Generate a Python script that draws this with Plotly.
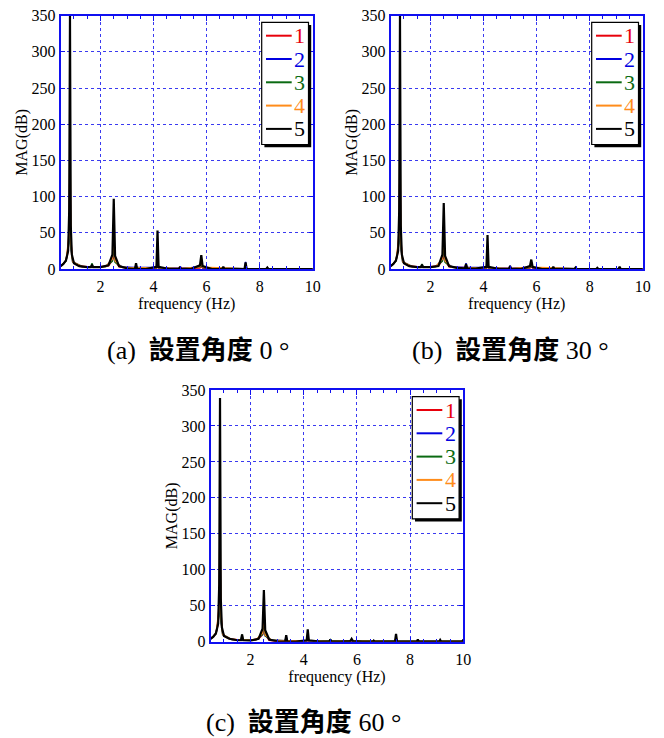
import plotly.graph_objects as go

# ---------------- data ----------------
series_names = ["1", "2", "3", "4", "5"]
series_colors = ["#e8000b", "#0000e0", "#0a6a12", "#ff8c1a", "#000000"]
caption_tags = ["(a)", "(b)", "(c)"]
caption_words = "設置角度"
caption_angles = ["0 °", "30 °", "60 °"]

x_ticks = [2, 4, 6, 8, 10]
y_ticks = [0, 50, 100, 150, 200, 250, 300, 350]

# frequency grids (Hz)
freq_black = [0.50, 0.60, 0.70, 0.78, 0.82, 0.85, 0.88, 0.92, 1.00, 1.20,
              1.50, 1.64, 1.68, 1.72, 2.00, 2.30, 2.45, 2.50, 2.55, 2.70,
              3.00, 3.30, 3.34, 3.38, 3.70, 4.11, 4.15, 4.19, 4.60, 4.96,
              5.00, 5.04, 5.40, 5.75, 5.80, 5.85, 6.20, 6.59, 6.63, 6.67,
              7.00, 7.43, 7.47, 7.51, 7.90, 8.25, 8.29, 8.33, 8.70, 9.09,
              9.13, 9.17, 9.60, 9.96, 10.00]
freq_red = [0.50, 0.60, 0.70, 0.78, 0.82, 0.85, 0.88, 0.92, 1.00, 1.20,
            1.50, 1.68, 2.00, 2.30, 2.45, 2.50, 2.55, 2.70, 3.00, 3.34,
            3.70, 4.10, 4.15, 4.20, 4.60, 5.00, 5.40, 5.75, 5.80, 5.85,
            6.20, 6.63, 7.00, 7.47, 8.00, 8.29, 9.00, 9.13, 10.00]
freq_other = [0.50, 0.70, 0.81, 0.85, 0.89, 0.95, 1.30, 1.64, 1.68, 1.72,
              2.20, 2.45, 2.50, 2.55, 2.80, 3.30, 3.34, 3.38, 4.11, 4.15,
              4.19, 4.96, 5.00, 5.04, 5.75, 5.80, 5.85, 7.43, 7.47, 7.51,
              9.09, 9.13, 9.17, 10.00]

# MAG(dB) values, panel (a) 0 deg
a_s1 = [4.5, 7, 12, 25, 60, 90, 45, 18, 8, 4,
        3, 3, 3, 4.5, 12, 20, 12, 3, 1.5, 1.5,
        1, 0.5, 4, 0.5, 0.5, 0.5, 0.5, 1.5, 4, 1.5,
        0.3, 0.3, 0.3, 0.3, 0.3, 0.5, 0.3, 0.3, 0.3]
a_s2 = [4, 11, 40, 150, 30, 10, 3.5, 3, 4, 3,
        3.5, 12, 40, 10, 3, 2, 5, 2, 2, 20,
        2, 0.8, 1.5, 0.8, 3, 8, 2, 0.5, 10, 0.5,
        0.3, 0.5, 0.3, 0.3]
a_s3 = [4, 11, 35, 120, 28, 10, 3.5, 3, 8, 3,
        3.5, 11, 35, 9, 2.5, 1.5, 3, 1.5, 1.5, 15,
        1.5, 0.5, 1, 0.5, 2.5, 6, 2, 0.5, 3, 0.5,
        0.3, 0.5, 0.3, 0.3]
a_s4 = [4, 11, 45, 180, 35, 10, 3.5, 3, 4, 3,
        3.5, 14, 50, 11, 2.5, 1.5, 3, 1.5, 2, 25,
        2, 0.5, 3.5, 0.5, 3, 10, 2.5, 0.5, 4, 0.5,
        0.3, 0.5, 0.3, 0.3]
a_s5 = [4, 7, 12, 25, 80, 350, 60, 20, 8, 4,
        2.5, 2.5, 6, 2.5, 2.5, 5, 20, 97, 18, 4,
        1, 0, 8, 0, 0, 3, 53, 3, 0, 0,
        3, 0, 0, 5, 19, 4, 0, 0, 3, 0,
        0, 0, 9, 0, 0, 0, 2, 0, 0, 0,
        0.5, 0, 0, 0, 0]

# panel (b) 30 deg
b_s1 = [4.5, 7, 12, 25, 60, 90, 45, 18, 8, 4,
        3, 3, 3, 4.5, 12, 20, 12, 3, 2, 2,
        1.2, 0.5, 4, 0.5, 0.5, 0.5, 0.5, 1.5, 3, 1.5,
        0.3, 0.3, 0.3, 0.3, 0.3, 0.3, 0.3, 0.8, 0.3]
b_s2 = [4, 11, 40, 150, 30, 10, 3.5, 3, 4, 3,
        3.5, 12, 40, 10, 3, 2, 8, 2, 2, 20,
        2, 0.8, 5, 0.8, 2.5, 6, 2, 0.5, 1, 0.5,
        0.5, 1, 0.5, 0.3]
b_s3 = [4, 11, 35, 120, 28, 10, 3.5, 3, 7, 3,
        3.5, 11, 35, 9, 2.5, 1.5, 3, 1.5, 1.5, 15,
        1.5, 0.5, 1, 0.5, 2, 5, 2, 0.5, 1, 0.5,
        0.5, 1, 0.5, 0.3]
b_s4 = [4, 11, 45, 180, 35, 10, 3.5, 3, 4, 3,
        3.5, 14, 50, 11, 2.5, 1.5, 3, 1.5, 2, 25,
        2, 0.5, 3, 0.5, 3, 8, 2.5, 0.5, 1, 0.5,
        0.5, 2, 0.5, 0.3]
b_s5 = [4, 7, 12, 25, 80, 350, 60, 20, 8, 4,
        2.5, 2.5, 6, 2.5, 2.5, 4, 20, 91, 18, 4,
        1.5, 1, 7, 1, 0.5, 3, 47, 3, 0, 0,
        4, 0, 0, 4, 13, 3, 0, 0, 3, 0,
        0, 0, 2, 0, 0, 0, 1.5, 0, 0, 0,
        3, 0, 0, 0, 0]

# panel (c) 60 deg
c_s1 = [4.5, 7, 12, 25, 60, 80, 45, 18, 8, 4,
        2.5, 2.5, 2, 4, 10, 18, 10, 2, 0.5, 0.5,
        0.3, 0.3, 1.5, 0.3, 0.3, 0.3, 0.3, 0.3, 1, 0.3,
        0.3, 0.3, 0.3, 0.3, 0.3, 0.3, 0.3, 0.3, 0.3]
c_s2 = [4, 11, 40, 140, 30, 10, 3, 2, 5, 2,
        2.5, 10, 30, 8, 2, 1.5, 8, 1.5, 1, 8,
        1, 0.5, 1.5, 0.5, 0.5, 2, 0.5, 0.5, 6, 0.5,
        0.5, 1, 0.5, 0.5]
c_s3 = [4, 11, 35, 120, 28, 10, 3, 2.5, 10, 2.5,
        2.5, 10, 30, 8, 2, 1.5, 5, 1.5, 1.2, 8,
        1.2, 1, 3, 1, 1, 2, 1, 1, 4, 1,
        0.8, 1, 0.8, 0.8]
c_s4 = [4, 11, 45, 170, 35, 10, 3, 2, 5, 2,
        2.5, 12, 35, 9, 2, 1.5, 4, 1.5, 1.5, 10,
        1.5, 0.5, 2, 0.5, 1, 3, 1, 0.5, 5, 0.5,
        0.5, 1, 0.5, 0.5]
c_s5 = [4, 7, 12, 25, 80, 339, 60, 20, 8, 4,
        2, 2, 10, 2, 1.5, 4, 18, 72, 16, 3,
        0.5, 0, 9, 0, 0, 2, 17, 2, 0, 0,
        3, 0, 0, 1, 4, 1, 0, 0, 1.5, 0,
        0, 0, 11, 0, 0, 0, 3, 0, 0, 0,
        2.5, 0, 0, 0, 3]

panels = [
    [a_s1, a_s2, a_s3, a_s4, a_s5],
    [b_s1, b_s2, b_s3, b_s4, b_s5],
    [c_s1, c_s2, c_s3, c_s4, c_s5],
]
series_freqs = [freq_red, freq_other, freq_other, freq_other, freq_black]
series_widths = [1.6, 1.4, 1.4, 1.4, 2.2]

# ---------------- layout geometry (pixels) ----------------
W, H = 664, 738
boxes = [  # left, right, top, bottom
    (60.7, 312.7, 15.7, 269.0),
    (390.7, 642.7, 15.7, 269.0),
    (210.7, 463.3, 390.0, 641.7),
]
cap_pos = [(198, 350), (510, 350), (303, 722)]

FONT = '"Liberation Serif", "Times New Roman", Times, serif'
CAP_FONT = '"Liberation Serif", "Noto Sans CJK TC", serif'
AXIS_BLUE = "#1010f0"
GRID_BLUE = "#3a3af0"


def px(x, y):
    return x / W, 1 - y / H


fig = go.Figure()
for p, series in enumerate(panels):
    sfx = "" if p == 0 else str(p + 1)
    for i, vals in enumerate(series):
        fig.add_trace(go.Scatter(
            x=series_freqs[i], y=vals, mode="lines",
            line=dict(color=series_colors[i], width=series_widths[i]),
            name=series_names[i],
            xaxis="x" + sfx, yaxis="y" + sfx,
            showlegend=False,
        ))

shapes = []
annotations = []
layout = dict(
    width=W, height=H, margin=dict(l=0, r=0, t=0, b=0, autoexpand=False),
    paper_bgcolor="white", plot_bgcolor="white",
    font=dict(family=FONT, size=16, color="black"),
    showlegend=False,
)
for p, (l, r, t, b) in enumerate(boxes):
    sfx = "" if p == 0 else str(p + 1)
    xa = dict(
        domain=[l / W, r / W], range=[0.5, 10], anchor="y" + sfx,
        tickmode="array", tickvals=x_ticks, automargin=False,
        ticks="inside", ticklen=5, tickwidth=1, tickcolor=AXIS_BLUE,
        minor=dict(dtick=0.5, tick0=0, ticks="inside", ticklen=3,
                   tickcolor=AXIS_BLUE, showgrid=False),
        showline=True, linecolor=AXIS_BLUE, linewidth=2, mirror="ticks",
        showgrid=True, gridcolor=GRID_BLUE, griddash="dot", gridwidth=1,
        zeroline=False, ticklabelstandoff=2,
        title=dict(text="frequency (Hz)", font=dict(size=16), standoff=2),
        tickfont=dict(size=16),
    )
    ya = dict(
        domain=[1 - b / H, 1 - t / H], range=[0, 350], anchor="x" + sfx,
        tickmode="array", tickvals=y_ticks, automargin=False,
        ticks="inside", ticklen=4, tickwidth=1, tickcolor=AXIS_BLUE,
        showline=True, linecolor=AXIS_BLUE, linewidth=2, mirror="ticks",
        showgrid=True, gridcolor=GRID_BLUE, griddash="dot", gridwidth=1,
        zeroline=False, ticklabelstandoff=0,
        title=dict(text="MAG(dB)", font=dict(size=16), standoff=0),
        tickfont=dict(size=16),
    )
    layout["xaxis" + sfx] = xa
    layout["yaxis" + sfx] = ya

    # legend box with drop shadow
    bl, bt = r - 51.0, t + 6.6
    br, bb = r - 4.2, t + 128.8
    x0, y0 = px(bl + 2.7, bt + 2.7)
    x1, y1 = px(br + 2.7, bb + 2.7)
    shapes.append(dict(type="rect", xref="paper", yref="paper",
                       x0=x0, y0=y0, x1=x1, y1=y1,
                       fillcolor="black", line=dict(width=0), layer="above"))
    x0, y0 = px(bl, bt)
    x1, y1 = px(br, bb)
    shapes.append(dict(type="rect", xref="paper", yref="paper",
                       x0=x0, y0=y0, x1=x1, y1=y1,
                       fillcolor="white", line=dict(color="black", width=1.2),
                       layer="above"))
    for i, name in enumerate(series_names):
        yy = bt + 13.4 + i * 23.3
        lx0, ly = px(bl + 4.3, yy)
        lx1, _ = px(bl + 30.0, yy)
        shapes.append(dict(type="line", xref="paper", yref="paper",
                           x0=lx0, y0=ly, x1=lx1, y1=ly,
                           line=dict(color=series_colors[i], width=2),
                           layer="above"))
        tx, ty = px(bl + 30.5, yy)
        annotations.append(dict(
            text=name, x=tx, y=ty, xref="paper", yref="paper",
            xanchor="left", yanchor="middle", showarrow=False,
            font=dict(family=FONT, size=22, color=series_colors[i]),
        ))

    cx, cy = cap_pos[p]
    cx, cy = px(cx, cy)
    annotations.append(dict(
        text=f"{caption_tags[p]}  <b>{caption_words}</b> {caption_angles[p]}",
        x=cx, y=cy, xref="paper", yref="paper",
        xanchor="center", yanchor="middle", showarrow=False,
        font=dict(family=CAP_FONT, size=26, color="black"),
    ))

layout["annotations"] = annotations
layout["shapes"] = shapes
fig.update_layout(**layout)
fig.write_html(
    "out.html",
    config={"displayModeBar": False},
    post_script="document.body.style.margin='0';document.body.style.padding='0';",
)
